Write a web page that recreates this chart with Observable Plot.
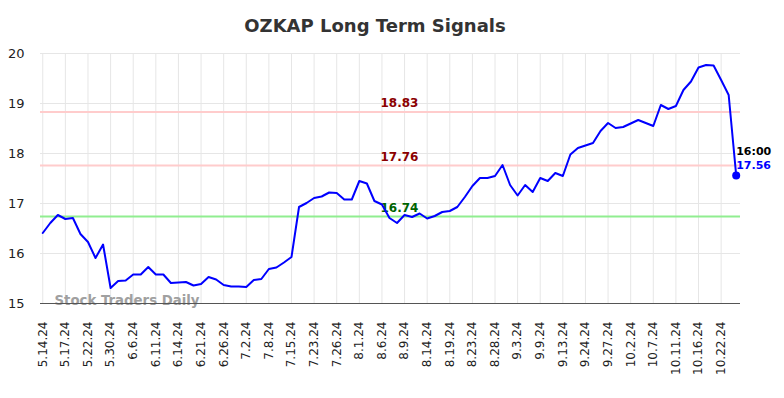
<!DOCTYPE html>
<html>
<head>
<meta charset="utf-8">
<script src="https://cdn.jsdelivr.net/npm/d3@7"></script>
<script src="https://cdn.jsdelivr.net/npm/@observablehq/plot@0.6"></script>
<style>
  html, body { margin: 0; padding: 0; background: #fff; }
  #wrap { position: relative; width: 784px; height: 398px; overflow: hidden; }
  #title { position: absolute; top: 15px; left: 0; width: 750px; text-align: center;
           font: bold 18px "DejaVu Sans", sans-serif; color: #333; line-height: 21px; z-index: 2; }
  #chart { position: absolute; top: 0; left: 0; }
</style>
</head>
<body>
<div id="wrap">
  <div id="title">OZKAP Long Term Signals</div>
  <div id="chart"></div>
</div>
<script>
// ---- data ----
const tickLabels = ["5.14.24","5.17.24","5.22.24","5.30.24","6.6.24","6.11.24","6.14.24","6.21.24","6.26.24","7.2.24","7.8.24","7.15.24","7.23.24","7.26.24","8.1.24","8.6.24","8.9.24","8.14.24","8.19.24","8.23.24","8.28.24","9.3.24","9.9.24","9.13.24","9.24.24","9.27.24","10.2.24","10.7.24","10.11.24","10.16.24","10.22.24"];
const prices = [16.41,16.61,16.77,16.69,16.71,16.39,16.23,15.91,16.18,15.31,
                15.45,15.46,15.58,15.58,15.73,15.58,15.58,15.41,15.42,15.43,
                15.36,15.39,15.53,15.48,15.37,15.34,15.34,15.33,15.47,15.49,
                15.69,15.72,15.82,15.93,16.93,17.01,17.11,17.14,17.22,17.21,
                17.08,17.08,17.45,17.40,17.05,16.98,16.71,16.61,16.77,16.73,
                16.80,16.70,16.75,16.83,16.85,16.93,17.13,17.35,17.51,17.51,
                17.55,17.77,17.37,17.16,17.37,17.23,17.51,17.45,17.61,17.55,
                17.98,18.11,18.16,18.21,18.45,18.61,18.51,18.53,18.60,18.67,
                18.61,18.55,18.97,18.89,18.95,19.27,19.44,19.72,19.77,19.76,
                19.47,19.17,17.56];
const resistanceLevels = [18.83, 17.76];
const supportLevels = [16.74];
const yTicks = [15, 16, 17, 18, 19, 20];
const lastTime = "16:00";
const watermark = "Stock Traders Daily";
const pointsPerTick = 3;

// ---- build ----
const series = prices.map((v, i) => ({i, v}));
const tickIdx = tickLabels.map((_, k) => k * pointsPerTick);
const last = series[series.length - 1];

const chart = Plot.plot({
  width: 784,
  height: 398,
  marginTop: 53,
  marginBottom: 95,
  marginLeft: 40,
  marginRight: 44,
  style: {fontFamily: "DejaVu Sans, sans-serif", background: "transparent", overflow: "visible"},
  x: {type: "linear", domain: [-0.3, 92.57], axis: null},
  y: {domain: [15, 20], axis: null},
  marks: [
    Plot.gridX(tickIdx, {stroke: "#e6e6e6", strokeOpacity: 1, strokeWidth: 1}),
    Plot.gridY(yTicks, {stroke: "#e6e6e6", strokeOpacity: 1, strokeWidth: 1}),
    Plot.axisX(tickIdx, {
      tickFormat: i => tickLabels[i / pointsPerTick],
      tickRotate: -90, tickSize: 0, tickPadding: 18,
      fontSize: 12, fill: "#222", label: null
    }),
    Plot.axisY(yTicks, {tickFormat: d => String(d), tickSize: 0, tickPadding: 16, fontSize: 13, fill: "#222", label: null}),
    Plot.ruleY(resistanceLevels, {stroke: "#ffcccc", strokeWidth: 2}),
    Plot.ruleY(supportLevels, {stroke: "#90ee90", strokeWidth: 2}),
    Plot.text(resistanceLevels, {y: d => d, text: d => d.toFixed(2), frameAnchor: "middle", dx: 9, dy: -8.5,
      fill: "#8b0000", fontWeight: "bold", fontSize: 12}),
    Plot.text(supportLevels, {y: d => d, text: d => d.toFixed(2), frameAnchor: "middle", dx: 9, dy: -8.5,
      fill: "#006400", fontWeight: "bold", fontSize: 12}),
    Plot.text([watermark], {text: d => d, frameAnchor: "bottom-left", textAnchor: "start", dx: 14, dy: 1,
      fill: "#a0a0a0", fontWeight: "bold", fontSize: 13.3}),
    Plot.ruleY([15], {stroke: "#555", strokeWidth: 1}),
    Plot.line(series, {x: "i", y: "v", stroke: "#0000ff", strokeWidth: 2}),
    Plot.dot([last], {x: "i", y: "v", r: 4, fill: "#0000ff"}),
    Plot.text([last], {x: "i", y: "v", text: () => lastTime, textAnchor: "start", dy: -24,
      fill: "#000", fontWeight: "bold", fontSize: 11}),
    Plot.text([last], {x: "i", y: "v", text: d => d.v.toFixed(2), textAnchor: "start", dy: -10.5,
      fill: "#0000ff", fontWeight: "bold", fontSize: 11})
  ]
});
document.getElementById("chart").appendChild(chart);
</script>
</body>
</html>
